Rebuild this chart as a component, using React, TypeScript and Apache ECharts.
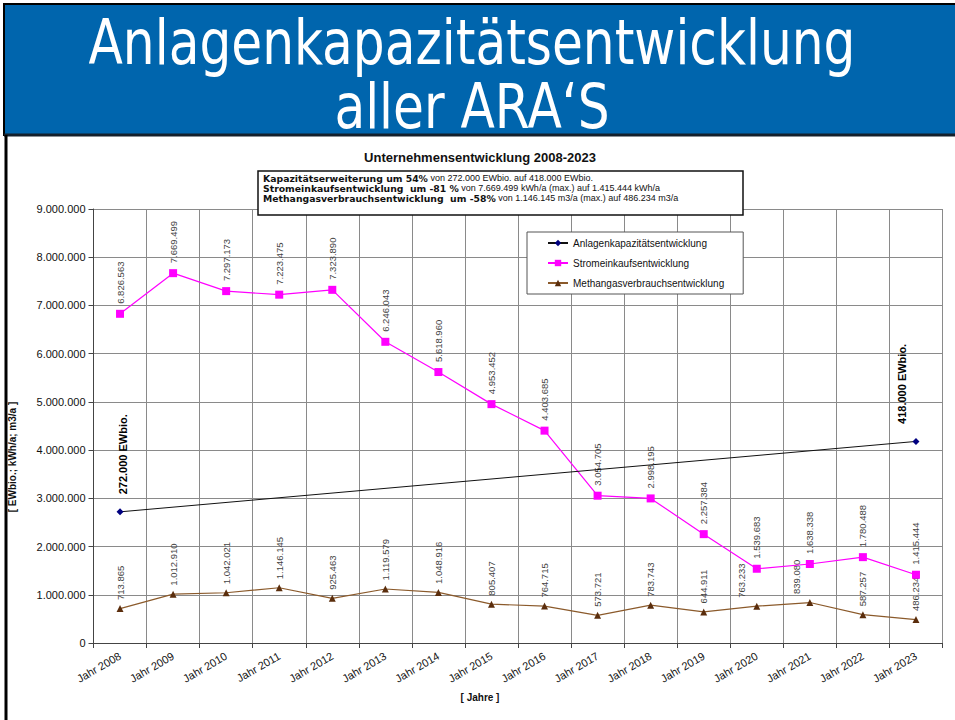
import React, { useEffect, useRef } from 'react';
import * as echarts from 'echarts';

const years = ['Jahr 2008', 'Jahr 2009', 'Jahr 2010', 'Jahr 2011', 'Jahr 2012', 'Jahr 2013', 'Jahr 2014', 'Jahr 2015', 'Jahr 2016', 'Jahr 2017', 'Jahr 2018', 'Jahr 2019', 'Jahr 2020', 'Jahr 2021', 'Jahr 2022', 'Jahr 2023'];
const anlagen: (number | null)[] = [2720000, null, null, null, null, null, null, null, null, null, null, null, null, null, null, 4180000];
const strom = [6826563, 7669499, 7297173, 7223475, 7323890, 6246043, 5618960, 4953452, 4403685, 3054705, 2998195, 2257384, 1539683, 1638338, 1780488, 1415444];
const methan = [713865, 1012910, 1042021, 1146145, 925463, 1119579, 1048916, 805407, 764715, 573721, 783743, 644911, 763233, 839080, 587257, 486234];
const seriesNames = ['Anlagenkapazitätsentwicklung', 'Stromeinkaufsentwicklung', 'Methangasverbrauchsentwicklung'];
const bannerLines = ['Anlagenkapazitätsentwicklung', 'aller ARA‘S'];
const chartTitle = 'Unternehmensentwicklung 2008-2023';
const infoLines = [
  ['Kapazitätserweiterung um 54%', ' von 272.000 EWbio. auf 418.000 EWbio.'],
  ['Stromeinkaufsentwicklung  um -81 %', ' von 7.669.499 kWh/a (max.) auf 1.415.444 kWh/a'],
  ['Methangasverbrauchsentwicklung  um -58%', ' von 1.146.145 m3/a (max.) auf 486.234 m3/a'],
];
const yAxisName = '[ EWbio.; kWh/a; m3/a ]';
const xAxisName = '[ Jahre ]';

function fmt(v: number): string {
  return Math.round(v).toString().replace(/\B(?=(\d{3})+(?!\d))/g, '.');
}

const FONT = '"Liberation Sans", Arial, sans-serif';
const BANNER_FONT = '"DejaVu Sans Condensed", "DejaVu Sans", sans-serif';

export default function App() {
  const ref = useRef<HTMLDivElement>(null);
  useEffect(() => {
    document.body.style.margin = '0';
    const chart = echarts.init(ref.current!, null, { renderer: 'svg' });
    const methanOffsets: Record<number, number> = { 12: -15, 13: -13 };
    const anlagenOffsets: Record<number, number> = { 0: 3, 15: -14 };
    const option: any = {
      animation: false,
      backgroundColor: '#ffffff',
      textStyle: { fontFamily: FONT },
      grid: { left: 93.5, right: 12.5, top: 209, bottom: 77, show: false },
      legend: {
        orient: 'vertical',
        left: 527,
        top: 232,
        padding: [6, 19, 6, 20],
        itemGap: 10,
        itemWidth: 20,
        itemHeight: 8,
        backgroundColor: '#ffffff',
        borderColor: '#555',
        borderWidth: 1,
        textStyle: { fontSize: 10, color: '#111', fontFamily: FONT },
        data: seriesNames,
        z: 20,
      },
      xAxis: {
        type: 'category',
        data: years,
        boundaryGap: true,
        axisLine: { show: true, lineStyle: { color: '#444', width: 1 } },
        axisTick: { show: true, length: 5, lineStyle: { color: '#444' } },
        axisLabel: { rotate: 30, fontSize: 11, color: '#111', margin: 12, interval: 0, fontFamily: FONT },
        splitLine: { show: true, lineStyle: { color: '#8a8a8a', width: 1 } },
      },
      yAxis: {
        type: 'value',
        min: 0,
        max: 9000000,
        interval: 1000000,
        axisLine: { show: true, lineStyle: { color: '#444', width: 1 } },
        axisTick: { show: true, length: 5, lineStyle: { color: '#444' } },
        axisLabel: { fontSize: 11, color: '#111', margin: 8, formatter: (v: number) => fmt(v), fontFamily: FONT },
        splitLine: { show: true, lineStyle: { color: '#8a8a8a', width: 1 } },
      },
      series: [
        {
          name: seriesNames[0],
          type: 'line',
          connectNulls: true,
          data: anlagen.map((v, i) => (v == null ? null : { value: v, label: { offset: [0, anlagenOffsets[i] || 0] } })),
          symbol: 'diamond',
          symbolSize: 7,
          lineStyle: { color: '#111', width: 1 },
          itemStyle: { color: '#000080' },
          label: {
            show: true,
            position: 'top',
            distance: 14,
            rotate: 90,
            align: 'left',
            verticalAlign: 'middle',
            fontSize: 11,
            fontWeight: 'bold',
            color: '#000',
            fontFamily: FONT,
            formatter: (p: any) => fmt(p.value / 10) + ' EWbio.',
          },
          z: 5,
        },
        {
          name: seriesNames[1],
          type: 'line',
          data: strom,
          symbol: 'rect',
          symbolSize: 8,
          lineStyle: { color: '#ff00ff', width: 1.2 },
          itemStyle: { color: '#ff00ff' },
          label: {
            show: true,
            position: 'top',
            distance: 6,
            rotate: 90,
            align: 'left',
            verticalAlign: 'middle',
            fontSize: 9.5,
            color: '#444',
            fontFamily: FONT,
            formatter: (p: any) => fmt(p.value),
          },
          z: 4,
        },
        {
          name: seriesNames[2],
          type: 'line',
          data: methan.map((v, i) => ({ value: v, label: { offset: [0, methanOffsets[i] || 0] } })),
          symbol: 'triangle',
          symbolSize: 7,
          lineStyle: { color: '#8b5a2b', width: 1.2 },
          itemStyle: { color: '#5a2d0c' },
          label: {
            show: true,
            position: 'top',
            distance: 5,
            rotate: 90,
            align: 'left',
            verticalAlign: 'middle',
            fontSize: 9.5,
            color: '#444',
            fontFamily: FONT,
            formatter: (p: any) => fmt(p.value),
          },
          z: 3,
        },
      ],
      graphic: [
        { type: 'rect', shape: { x: 4, y: 4, width: 960, height: 131 }, style: { fill: '#0065ad', stroke: '#000', lineWidth: 2 }, z: 30 },
        { type: 'line', shape: { x1: 4, y1: 135, x2: 955, y2: 135 }, style: { stroke: '#14202c', lineWidth: 3 }, z: 31 },
        { type: 'line', shape: { x1: 6, y1: 135, x2: 6, y2: 720 }, style: { stroke: '#000', lineWidth: 3 }, z: 31 },
        {
          type: 'text', x: 472, y: 42, scaleX: 0.9, z: 32,
          style: { text: bannerLines[0], fill: '#fff', fontSize: 62, fontFamily: BANNER_FONT, align: 'center', verticalAlign: 'middle' },
        },
        {
          type: 'text', x: 472, y: 106, scaleX: 0.9, z: 32,
          style: { text: bannerLines[1], fill: '#fff', fontSize: 62, fontFamily: BANNER_FONT, align: 'center', verticalAlign: 'middle' },
        },
        {
          type: 'text', x: 480, y: 157, z: 32,
          style: { text: chartTitle, fill: '#111', fontSize: 13, fontWeight: 'bold', fontFamily: FONT, align: 'center', verticalAlign: 'middle' },
        },
        { type: 'rect', shape: { x: 258, y: 171, width: 485, height: 44 }, style: { fill: '#fff', stroke: '#111', lineWidth: 1.5 }, z: 30 },
        {
          type: 'text', x: 263, y: 173, z: 32,
          style: {
            text: infoLines.map((l) => '{b|' + l[0] + '}{n|' + l[1] + '}').join('\n'),
            fill: '#111', fontSize: 9, fontFamily: FONT, verticalAlign: 'top', lineHeight: 10,
            rich: {
              b: { fontWeight: 'bold', fontSize: 9.3, lineHeight: 10, fontFamily: '"DejaVu Sans", sans-serif', fill: '#111' },
              n: { fontSize: 9, lineHeight: 10, fontFamily: FONT, fill: '#111' },
            },
          },
        },
        {
          type: 'text', x: 12, y: 457, rotation: Math.PI / 2, z: 32,
          style: { text: yAxisName, fill: '#111', fontSize: 10, fontWeight: 'bold', fontFamily: FONT, align: 'center', verticalAlign: 'middle' },
        },
        {
          type: 'text', x: 480, y: 697, z: 32,
          style: { text: xAxisName, fill: '#111', fontSize: 10, fontWeight: 'bold', fontFamily: FONT, align: 'center', verticalAlign: 'middle' },
        },
      ],
    };
    chart.setOption(option);
    return () => chart.dispose();
  }, []);
  return <div ref={ref} style={{ width: 955, height: 720 }} />;
}
